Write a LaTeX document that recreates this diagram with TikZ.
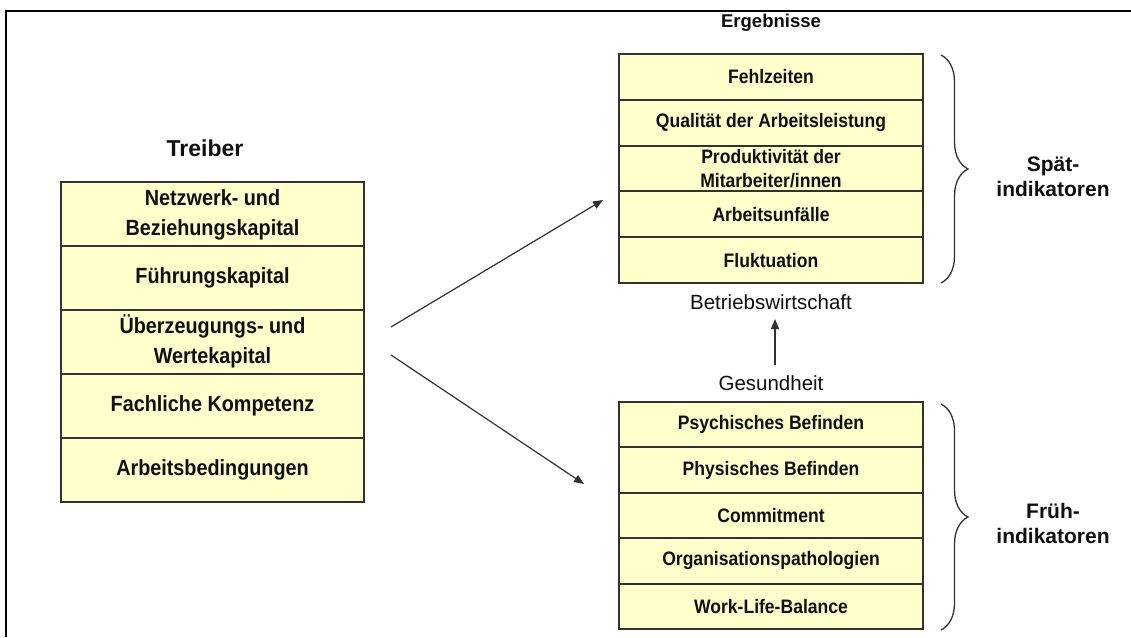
\documentclass[tikz,border=0pt]{standalone}
\usepackage{fontspec}
\setmainfont{Liberation Sans}
\newfontfamily\condsans[FakeStretch=0.9]{Liberation Sans}
\usetikzlibrary{arrows.meta,decorations.pathreplacing}
\definecolor{boxfill}{RGB}{255,255,204}
\definecolor{lineclr}{RGB}{50,50,50}
\definecolor{txtclr}{RGB}{15,15,15}
\begin{document}
\begin{tikzpicture}[x=1pt,y=-1pt,
  rowbase/.style={fill=boxfill, inner sep=0pt, align=center, text=txtclr},
  rowline/.style={draw=lineclr, line width=1.7pt},
  leftrow/.style={rowbase, minimum width=303pt, minimum height=64pt,
    font=\condsans\bfseries\fontsize{22}{30}\selectfont},
  toprow/.style={rowbase, minimum width=304pt, minimum height=45.8pt,
    font=\condsans\bfseries\fontsize{19.5}{24}\selectfont},
  botrow/.style={rowbase, minimum width=304pt, minimum height=45.4pt,
    font=\condsans\bfseries\fontsize{19.5}{24}\selectfont},
  heading/.style={inner sep=0pt, text=txtclr, font=\bfseries\fontsize{23}{27}\selectfont},
  subheading/.style={inner sep=0pt, text=txtclr, font=\bfseries\fontsize{18.5}{22}\selectfont},
  sidelabel/.style={inner sep=0pt, align=center, text=txtclr, font=\bfseries\fontsize{21}{25}\selectfont},
  plainlabel/.style={inner sep=0pt, text=txtclr, font=\fontsize{20.5}{24}\selectfont},
  conn/.style={draw=lineclr, line width=1.2pt, -{Triangle[length=10pt,width=8pt]}},
  bracestyle/.style={draw=lineclr, line width=1.3pt, decorate,
    decoration={brace, amplitude=27pt, aspect=0.5}}
]
\useasboundingbox (0,0) rectangle (1131,637);
\fill[white] (0,0) rectangle (1131,637);
% frame (top and left sides)
\draw[line width=2.2pt, black] (6,637) -- (6,11) -- (1131,11);

% left column
\node[heading] (treiber) at (205,148) {Treiber};
\node[leftrow] (l1) at (212.5,214) {\raisebox{-2pt}{\begin{tabular}{@{}c@{}}Netzwerk- und\\Beziehungskapital\end{tabular}}};
\node[leftrow] (l2) at (212.5,278) {Führungskapital};
\node[leftrow] (l3) at (212.5,342) {\raisebox{-2pt}{\begin{tabular}{@{}c@{}}Überzeugungs- und\\Wertekapital\end{tabular}}};
\node[leftrow] (l4) at (212.5,406) {Fachliche Kompetenz};
\node[leftrow] (l5) at (212.5,470) {Arbeitsbedingungen};

% top right column
\node[subheading] (ergeb) at (771,23) {Ergebnisse};
\node[toprow] (r1) at (771,76.9) {Fehlzeiten};
\node[toprow] (r2) at (771,122.7) {Qualität der Arbeitsleistung};
\node[toprow] (r3) at (771,168.5) {Produktivität der\\Mitarbeiter/innen};
\node[toprow] (r4) at (771,214.3) {Arbeitsunfälle};
\node[toprow] (r5) at (771,260.1) {Fluktuation};

\node[plainlabel] (betr) at (771,302) {Betriebswirtschaft};
\node[plainlabel] (ges) at (771,383) {Gesundheit};

% bottom right column
\node[botrow] (b1) at (771,424.7) {Psychisches Befinden};
\node[botrow] (b2) at (771,470.1) {Physisches Befinden};
\node[botrow] (b3) at (771,515.5) {Commitment};
\node[botrow] (b4) at (771,560.9) {Organisationspathologien};
\node[botrow] (b5) at (771,606.3) {Work-Life-Balance};

% row borders drawn after all fills
\foreach \n in {l1,l2,l3,l4,l5,r1,r2,r3,r4,r5,b1,b2,b3,b4,b5}
  \draw[rowline] (\n.north west) rectangle (\n.south east);

% side labels
\node[sidelabel] (spaet) at (1053,177) {Spät-\\indikatoren};
\node[sidelabel] (frueh) at (1053,523) {Früh-\\indikatoren};

% braces
\coordinate (bt1) at (941,55);
\coordinate (bt2) at (941,283);
\coordinate (bb1) at (941,404);
\coordinate (bb2) at (941,630);
\draw[bracestyle] (bt1) -- (bt2);
\draw[bracestyle] (bb1) -- (bb2);

% arrows
\coordinate (a1s) at (391,327);
\coordinate (a1e) at (603,200);
\coordinate (a2s) at (391,355);
\coordinate (a2e) at (584,484);
\coordinate (a3s) at (775,365);
\coordinate (a3e) at (775,319);
\draw[conn] (a1s) -- (a1e);
\draw[conn] (a2s) -- (a2e);
\draw[conn] (a3s) -- (a3e);
\end{tikzpicture}
\end{document}
